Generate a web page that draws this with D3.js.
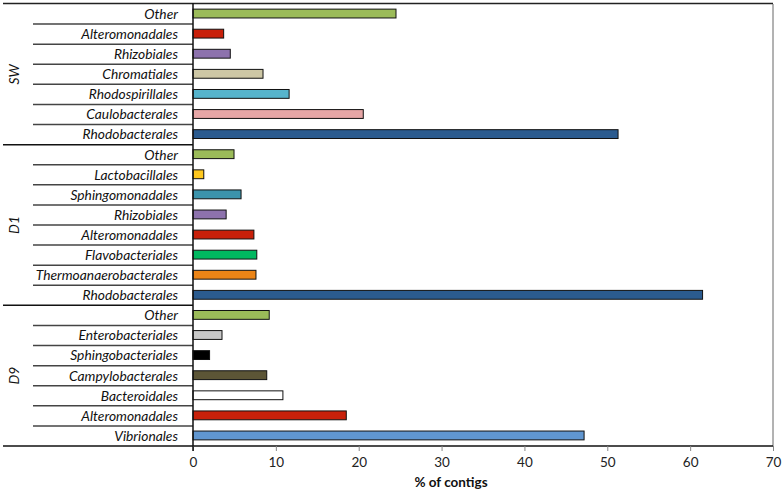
<!DOCTYPE html>
<html>
<head>
<meta charset="utf-8">
<script src="https://cdn.jsdelivr.net/npm/d3@7"></script>
<style>
  body { margin: 0; background: #fff; }
  svg { display: block; font-family: Lato, "Open Sans", sans-serif; }
</style>
</head>
<body>
<svg id="chart" width="784" height="491"></svg>
<script>
// groups, top to bottom
const groups = ["SW", "D1", "D9"];

const swOrders = ["Other", "Alteromonadales", "Rhizobiales", "Chromatiales", "Rhodospirillales", "Caulobacterales", "Rhodobacterales"];
const swValues = [24.5, 3.7, 4.5, 8.45, 11.6, 20.55, 51.3];

const d1Orders = ["Other", "Lactobacillales", "Sphingomonadales", "Rhizobiales", "Alteromonadales", "Flavobacteriales", "Thermoanaerobacterales", "Rhodobacterales"];
const d1Values = [4.95, 1.3, 5.8, 4.0, 7.35, 7.7, 7.6, 61.5];

const d9Orders = ["Other", "Enterobacteriales", "Sphingobacteriales", "Campylobacterales", "Bacteroidales", "Alteromonadales", "Vibrionales"];
const d9Values = [9.2, 3.5, 2.0, 8.9, 10.85, 18.5, 47.2];

const xTicks = [0, 10, 20, 30, 40, 50, 60, 70];

const colors = {
  Other: "#9bbb59", Alteromonadales: "#c8200a", Rhizobiales: "#8d72ad",
  Chromatiales: "#cdc7a5", Rhodospirillales: "#56b4cc", Caulobacterales: "#e6a6a6",
  Rhodobacterales: "#2b5b8f", Lactobacillales: "#ffc81e", Sphingomonadales: "#3b93ab",
  Flavobacteriales: "#00b860", Thermoanaerobacterales: "#ec8416",
  Enterobacteriales: "#c8c8c8", Sphingobacteriales: "#000000",
  Campylobacterales: "#5c5536", Bacteroidales: "#ffffff", Vibrionales: "#6096d0"
};

const rows = [];
[[swOrders, swValues], [d1Orders, d1Values], [d9Orders, d9Values]].forEach(function(g, gi) {
  g[0].forEach(function(name, i) {
    rows.push({group: groups[gi], name: name, value: g[1][i], key: groups[gi] + "-" + i});
  });
});

const svg = d3.select("#chart");
const mLeft = 193, mRight = 773, mTop = 4, mBottom = 446;

const x = d3.scaleLinear().domain([0, 70]).range([mLeft, mRight]);
const y = d3.scaleBand().domain(rows.map(d => d.key)).range([mTop, mBottom]);

// frame
svg.append("line").attr("x1", 3).attr("x2", mRight).attr("y1", mTop - 0.5).attr("y2", mTop - 0.5)
  .attr("stroke", "#222").attr("stroke-width", 1.5);
svg.append("line").attr("x1", mRight).attr("x2", mRight).attr("y1", mTop).attr("y2", mBottom)
  .attr("stroke", "#666").attr("stroke-width", 1);

// row separators in label area
rows.forEach(function(d, i) {
  if (i === 0) return;
  const first = rows[i - 1].group !== d.group;
  svg.append("line")
    .attr("x1", first ? 3 : 33).attr("x2", mLeft)
    .attr("y1", y(d.key)).attr("y2", y(d.key))
    .attr("stroke", first ? "#111" : "#444").attr("stroke-width", 1.5);
});

// bars
const bh = y.bandwidth() * 0.44;
svg.append("g").selectAll("rect").data(rows).join("rect")
  .attr("x", x(0))
  .attr("y", d => y(d.key) + y.bandwidth() / 2 - bh / 2 - 0.5)
  .attr("width", d => x(d.value) - x(0))
  .attr("height", bh)
  .attr("fill", d => colors[d.name])
  .attr("stroke", "#111").attr("stroke-width", 1);

// category labels
svg.append("g").selectAll("text").data(rows).join("text")
  .attr("x", 178)
  .attr("y", d => y(d.key) + y.bandwidth() / 2)
  .attr("dy", "0.35em")
  .attr("text-anchor", "end")
  .attr("font-style", "italic")
  .attr("font-size", 13.8)
  .attr("fill", "#111")
  .text(d => d.name);

// group labels
groups.forEach(function(g) {
  const gr = rows.filter(d => d.group === g);
  const cy = (y(gr[0].key) + y(gr[gr.length - 1].key) + y.bandwidth()) / 2;
  svg.append("text")
    .attr("transform", "translate(14," + cy + ") rotate(-90)")
    .attr("dy", "0.35em")
    .attr("text-anchor", "middle")
    .attr("font-style", "italic")
    .attr("font-size", 13.8)
    .attr("fill", "#111")
    .text(g);
});

// x axis
const xAxis = svg.append("g")
  .attr("transform", "translate(0," + mBottom + ")")
  .call(d3.axisBottom(x).tickValues(xTicks).tickSize(5).tickPadding(6));
xAxis.select(".domain").attr("stroke", "#111").attr("stroke-width", 1.5)
  .attr("d", "M3,0H" + mRight);
xAxis.selectAll(".tick line").attr("stroke", "#888");
xAxis.selectAll(".tick text").attr("font-size", 13.5).attr("fill", "#222")
  .attr("font-family", "Lato, sans-serif");

// y axis line
svg.append("line").attr("x1", mLeft).attr("x2", mLeft).attr("y1", mTop - 1).attr("y2", mBottom + 5)
  .attr("stroke", "#111").attr("stroke-width", 1.5);

svg.append("text")
  .attr("x", 451).attr("y", 487)
  .attr("text-anchor", "middle")
  .attr("font-weight", "bold")
  .attr("font-size", 13.5)
  .attr("fill", "#111")
  .text("% of contigs");
</script>
</body>
</html>
